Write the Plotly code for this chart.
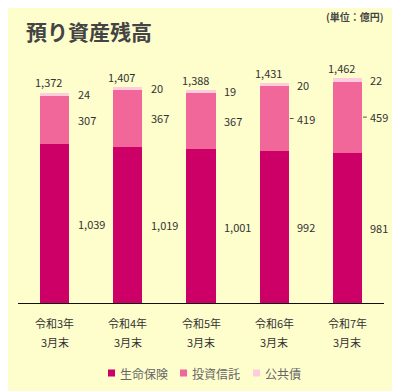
import plotly.graph_objects as go

categories = ["令和3年", "令和4年", "令和5年", "令和6年", "令和7年"]
sub_labels = ["3月末", "3月末", "3月末", "3月末", "3月末"]
life_ins = [1039, 1019, 1001, 992, 981]
inv_trust = [307, 367, 367, 419, 459]
public_bond = [24, 20, 19, 20, 22]
totals = [1372, 1407, 1388, 1431, 1462]
series_names = ["生命保険", "投資信託", "公共債"]
leader_flags = [False, False, False, True, True]

BG = "#FEFDCC"
FONT = "Noto Sans CJK JP"
colors = ["#CC0066", "#F2679A", "#FFCCDD"]
series = [life_ins, inv_trust, public_bond]

# figure geometry (page body has an 8px margin)
W, H = 392, 383
ML, MR, MT, MB = 10, 16, 49, 87
PW = W - ML - MR
PH = H - MT - MB


def px_x(px):
    return (px - ML) / PW


def px_y(py):
    return (H - MB - py) / PH


x_idx = list(range(len(categories)))

fig = go.Figure()
for name, vals, col in zip(series_names, series, colors):
    fig.add_trace(go.Bar(x=x_idx, y=vals, name=name, marker=dict(color=col, line=dict(width=0)),
                         hoverinfo="skip", showlegend=False))

num_font = dict(family=FONT, size=11, color="#333333")
ann = []
shapes = []
for i in x_idx:
    base = 0
    for vals in series:
        mid = base + vals[i] / 2
        base += vals[i]
        ann.append(dict(x=i, y=mid, xref="x", yref="y", text=f"{vals[i]:,}", showarrow=False,
                        xanchor="left", yanchor="middle", xshift=21, font=num_font))
        if leader_flags[i] and vals is inv_trust:
            shapes.append(dict(type="line", xref="x", yref="y", x0=i + 0.213, x1=i + 0.265,
                               y0=mid, y1=mid, line=dict(color="#555555", width=1)))
    ann.append(dict(x=i, y=totals[i], xref="x", yref="y", text=f"{totals[i]:,}", showarrow=False,
                    xanchor="center", yanchor="bottom", xshift=-6, yshift=0, font=num_font))
    ann.append(dict(x=i, y=0, xref="x", yref="y", text=categories[i], showarrow=False,
                    xanchor="center", yanchor="middle", yshift=-19, font=num_font))
    ann.append(dict(x=i, y=0, xref="x", yref="y", text=sub_labels[i], showarrow=False,
                    xanchor="center", yanchor="middle", yshift=-38, font=num_font))

ann.append(dict(xref="paper", yref="paper", x=px_x(16), y=px_y(23), xanchor="left",
                yanchor="middle", text="<b>預り資産残高</b>", showarrow=False,
                font=dict(family=FONT, size=21, color="#444444")))
ann.append(dict(xref="paper", yref="paper", x=px_x(378), y=px_y(8), xanchor="right",
                yanchor="middle", text="<b>(単位：億円)</b>", showarrow=False,
                font=dict(family=FONT, size=10, color="#444444")))

# legend built from series names/colours
leg_sq_x = [100, 172, 245]
for name, col, sx in zip(series_names, colors, leg_sq_x):
    shapes.append(dict(type="rect", xref="paper", yref="paper", x0=px_x(sx), x1=px_x(sx + 7),
                       y0=px_y(368.5), y1=px_y(361.5), fillcolor=col, line=dict(width=0)))
    ann.append(dict(xref="paper", yref="paper", x=px_x(sx + 10), y=px_y(365), xanchor="left",
                    yanchor="middle", text=name, showarrow=False,
                    font=dict(family=FONT, size=12, color="#666666")))

shapes.append(dict(type="line", xref="paper", yref="y", x0=0, x1=1, y0=0, y1=0,
                   line=dict(color="#111111", width=2)))

fig.update_layout(
    barmode="stack",
    bargap=0.6,
    width=W, height=H,
    margin=dict(l=ML, r=MR, t=MT, b=MB, autoexpand=False),
    paper_bgcolor=BG, plot_bgcolor=BG,
    font=dict(family=FONT, color="#333333"),
    xaxis=dict(range=[-0.5, 4.5], showticklabels=False, showgrid=False, zeroline=False,
               showline=False, fixedrange=True),
    yaxis=dict(range=[0, 1600], visible=False, showgrid=False, fixedrange=True),
    showlegend=False,
    annotations=ann,
    shapes=shapes,
)

fig.write_html("out.html")
